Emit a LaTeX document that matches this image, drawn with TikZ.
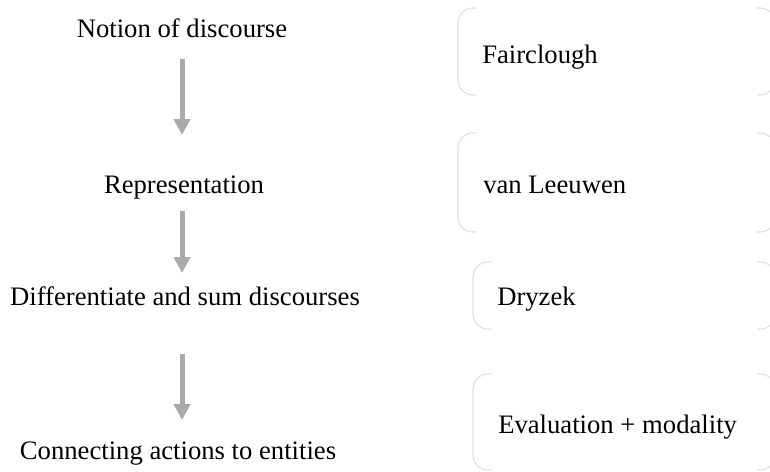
\documentclass[tikz,border=0pt]{standalone}
\usepackage{fontspec}
\setmainfont{Liberation Serif}
\usetikzlibrary{arrows.meta}

\definecolor{flowgray}{RGB}{170,170,170}
\definecolor{framegray}{RGB}{222,222,222}

\tikzset{
  stage/.style={inner sep=0pt, anchor=base, font=\fontsize{20}{24}\selectfont},
  author/.style={inner sep=0pt, anchor=base west, font=\fontsize{20}{24}\selectfont},
  flow/.style={draw=flowgray, line width=3.75pt,
    -{Triangle[width=12pt,length=12pt]}},
  frame/.style={draw=framegray, line width=0.8pt, rounded corners=11.25pt},
}

\begin{document}
\begin{tikzpicture}[x=0.75pt, y=-0.75pt]
  \useasboundingbox (0,0) rectangle (770,471);
  \clip (0,0) rectangle (770,471);

  % stages of the analysis (placed on their baselines)
  \node[stage] (notion) at (182,37)  {Notion of discourse};
  \node[stage] (repr)   at (184,193) {Representation};
  \node[stage] (diff)   at (185,305) {Differentiate and sum discourses};
  \node[stage] (conn)   at (178,459) {Connecting actions to entities};

  % arrow ends between the stages
  \coordinate (a1s) at (182,59);  \coordinate (a1e) at (182,135);
  \coordinate (a2s) at (182,211); \coordinate (a2e) at (182,273);
  \coordinate (a3s) at (182,354); \coordinate (a3e) at (182,420);
  \draw[flow] (a1s) -- (a1e);
  \draw[flow] (a2s) -- (a2e);
  \draw[flow] (a3s) -- (a3e);

  % bracket frames around the authors: rounded corners only
  \foreach \l/\t/\b in {458/8/95, 458/133/232, 473/262/329, 473/374/470}{
    \draw[frame] (\l+18,\t) -- (\l,\t) -- (\l,\b) -- (\l+18,\b);
    \draw[frame] (757,\t) -- (775,\t) -- (775,\b) -- (757,\b);
  }

  % authors (placed on their baselines)
  \node[author] (fair) at (482,63)  {Fairclough};
  \node[author] (vanl) at (483,193) {van Leeuwen};
  \node[author] (dryz) at (497,305) {Dryzek};
  \node[author] (eval) at (498,433) {Evaluation + modality};
\end{tikzpicture}
\end{document}
